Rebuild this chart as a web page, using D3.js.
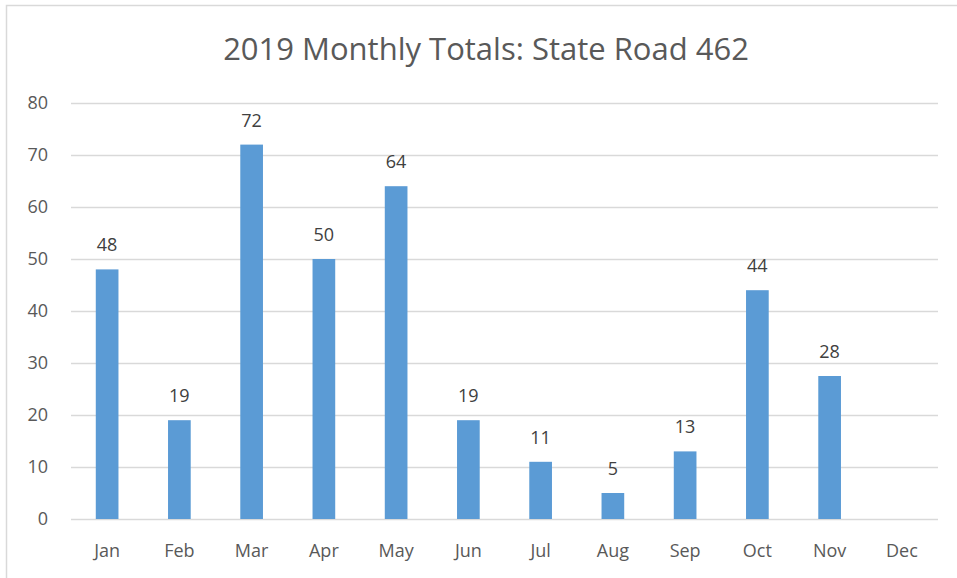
<!DOCTYPE html>
<html>
<head>
<meta charset="utf-8">
<script src="https://cdn.jsdelivr.net/npm/d3@7"></script>
<style>
  body { margin: 0; background: #fff; }
  text { font-family: "Open Sans", "Noto Sans", sans-serif; }
</style>
</head>
<body>
<div id="chart"></div>
<script>
// data
const months = ["Jan", "Feb", "Mar", "Apr", "May", "Jun", "Jul", "Aug", "Sep", "Oct", "Nov", "Dec"];
const totals = [48, 19, 72, 50, 64, 19, 11, 5, 13, 44, 27.5, null];
const yTicks = [0, 10, 20, 30, 40, 50, 60, 70, 80];
const title = "2019 Monthly Totals: State Road 462";

const width = 957, height = 578;
const margin = { top: 103, right: 19, bottom: 59, left: 71 };

const svg = d3.select("#chart")
    .append("svg")
    .attr("width", width)
    .attr("height", height)

// chart frame (runs off the right and bottom edge)
svg.append("rect")
    .attr("x", 6.5).attr("y", 5.5)
    .attr("width", 1000).attr("height", 1000)
    .attr("fill", "none")
    .attr("stroke", "#d9d9d9")
    .attr("stroke-width", 1.5)

const x = d3.scaleBand()
    .domain(months)
    .range([margin.left, width - margin.right])
    .paddingInner(0.686)
    .paddingOuter(0.343)

const y = d3.scaleLinear()
    .domain([0, 80])
    .range([height - margin.bottom, margin.top])

// gridlines
svg.append("g")
    .selectAll("line")
    .data(yTicks)
    .join("line")
    .attr("x1", margin.left)
    .attr("x2", width - margin.right)
    .attr("y1", d => Math.round(y(d)) + 0.5)
    .attr("y2", d => Math.round(y(d)) + 0.5)
    .attr("stroke", "#d9d9d9")
    .attr("stroke-width", 1.5)

// y labels
svg.append("g")
    .selectAll("text")
    .data(yTicks)
    .join("text")
    .attr("x", 48)
    .attr("y", d => y(d))
    .attr("dy", "0.35em")
    .attr("text-anchor", "end")
    .attr("font-size", 18)
    .attr("fill", "#595959")
    .text(d => d)

// x labels
svg.append("g")
    .selectAll("text")
    .data(months)
    .join("text")
    .attr("x", d => x(d) + x.bandwidth() / 2)
    .attr("y", height - margin.bottom + 38)
    .attr("text-anchor", "middle")
    .attr("font-size", 18)
    .attr("fill", "#595959")
    .text(d => d)

const data = months.map((m, i) => ({ month: m, value: totals[i] })).filter(d => d.value != null);

// bars
svg.append("g")
    .selectAll("rect")
    .data(data)
    .join("rect")
    .attr("x", d => x(d.month))
    .attr("y", d => y(d.value))
    .attr("width", x.bandwidth())
    .attr("height", d => y(0) - y(d.value))
    .attr("fill", "#5b9bd5")

// value labels
svg.append("g")
    .selectAll("text")
    .data(data)
    .join("text")
    .attr("x", d => x(d.month) + x.bandwidth() / 2)
    .attr("y", d => y(d.value) - 18)
    .attr("text-anchor", "middle")
    .attr("font-size", 18)
    .attr("fill", "#404040")
    .text(d => d3.format(".0f")(d.value))

// title
svg.append("text")
    .attr("x", 486)
    .attr("y", 60)
    .attr("text-anchor", "middle")
    .attr("font-size", 31)
    .attr("fill", "#595959")
    .text(title)
</script>
</body>
</html>
